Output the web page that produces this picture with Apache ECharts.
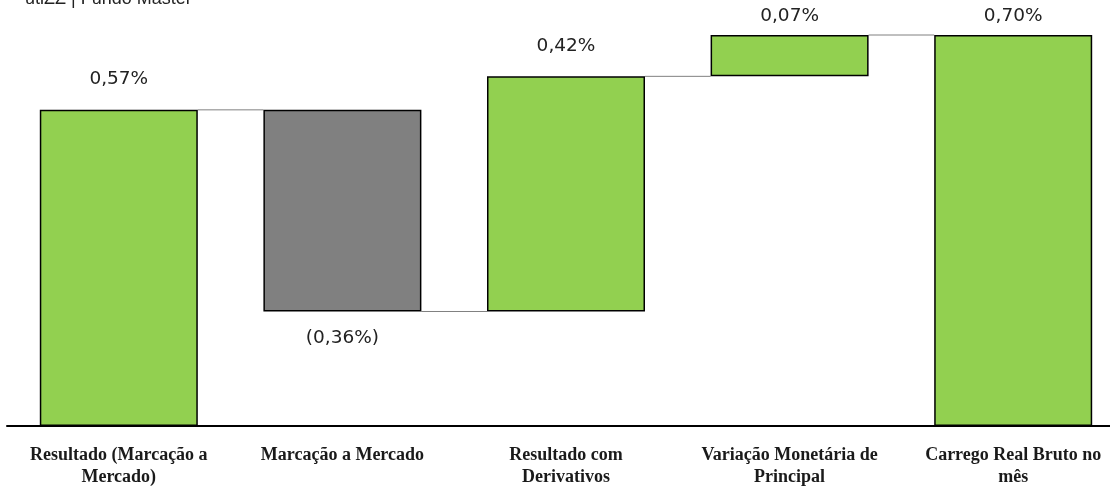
<!DOCTYPE html>
<html lang="pt">

<head>
    <meta charset="UTF-8">
    <title>Cascata</title>
    <style>
        body {
            margin: 0;
            background: #fff;
            overflow: hidden;
        }

        /* um pouco mais largo que a janela: a última barra encosta na borda */
        #chart {
            width: 1125px;
            height: 490px;
        }
    </style>
</head>

<body>
    <div id="chart"></div>
    <script src="https://cdn.jsdelivr.net/npm/echarts@6/dist/echarts.min.js"></script>
    <script>
        const categories = [
            'Resultado (Marcação a\nMercado)',
            'Marcação a Mercado',
            'Resultado com\nDerivativos',
            'Variação Monetária de\nPrincipal',
            'Carrego Real Bruto no\nmês'
        ];
        // variações (em %), a última barra é o total
        const deltas = [0.566, -0.361, 0.421, 0.074];
        const total = 0.70;
        const kinds = ['up', 'down', 'up', 'up', 'total'];

        const BAR_W = 158;

        const chart = echarts.init(document.getElementById('chart'));

        // monta base invisível + altura visível de cada barra
        const base = [];
        const height = [];
        const levels = [];
        let acc = 0;
        deltas.forEach(d => {
            const next = acc + d;
            base.push(Math.min(acc, next));
            height.push(Math.abs(d));
            acc = next;
            levels.push(acc);
        });
        base.push(0);
        height.push(total);

        function fmt (v) {
            const s = Math.abs(v).toFixed(2).replace('.', ',') + '%';
            return v < 0 ? '(' + s + ')' : s;
        }

        const labelValues = deltas.concat([total]);

        const visible = height.map((h, i) => {
            const neg = kinds[i] === 'down';
            const nearTop = i >= 3;
            return {
                value: h,
                itemStyle: { color: neg ? '#808080' : '#92D050' },
                label: {
                    position: neg ? 'bottom' : 'top',
                    distance: nearTop ? 9 : (neg ? 17 : 21)
                }
            };
        });

        chart.setOption({
            animation: false,
            title: {
                text: 'utiZZ | Fundo Master',
                left: 20,
                top: -15,
                textStyle: {
                    fontFamily: 'Liberation Sans',
                    fontSize: 18,
                    fontWeight: 'normal',
                    color: '#222'
                }
            },
            grid: {
                left: 7,
                right: 0,
                top: 35,
                bottom: 64
            },
            xAxis: {
                type: 'category',
                data: categories,
                axisTick: { show: false },
                axisLine: { lineStyle: { color: '#000', width: 2 } },
                axisLabel: {
                    margin: 18,
                    interval: 0,
                    fontFamily: 'Liberation Serif',
                    fontWeight: 'bold',
                    fontSize: 18,
                    lineHeight: 22,
                    color: '#1a1a1a'
                }
            },
            yAxis: {
                type: 'value',
                min: 0,
                max: total,
                show: false,
                splitLine: { show: false }
            },
            series: [
                {
                    // linhas de ligação entre as barras
                    type: 'custom',
                    z: 1,
                    data: levels.map((v, i) => [i, v]),
                    renderItem (params, api) {
                        const i = api.value(0);
                        const v = api.value(1);
                        const p1 = api.coord([i, v]);
                        const p2 = api.coord([i + 1, v]);
                        return {
                            type: 'line',
                            shape: {
                                x1: p1[0] + BAR_W / 2, y1: p1[1],
                                x2: p2[0] - BAR_W / 2, y2: p2[1]
                            },
                            style: { stroke: '#808080', lineWidth: 1 }
                        };
                    },
                    silent: true
                },
                {
                    type: 'bar',
                    stack: 'w',
                    z: 2,
                    barWidth: BAR_W,
                    itemStyle: { color: 'transparent' },
                    data: base,
                    silent: true
                },
                {
                    type: 'bar',
                    stack: 'w',
                    z: 3,
                    barWidth: BAR_W,
                    itemStyle: { borderColor: '#000', borderWidth: 1.5 },
                    label: {
                        show: true,
                        fontFamily: 'DejaVu Sans',
                        fontSize: 18.5,
                        color: '#222',
                        formatter: p => fmt(labelValues[p.dataIndex])
                    },
                    data: visible
                }
            ]
        });
    </script>
</body>

</html>
